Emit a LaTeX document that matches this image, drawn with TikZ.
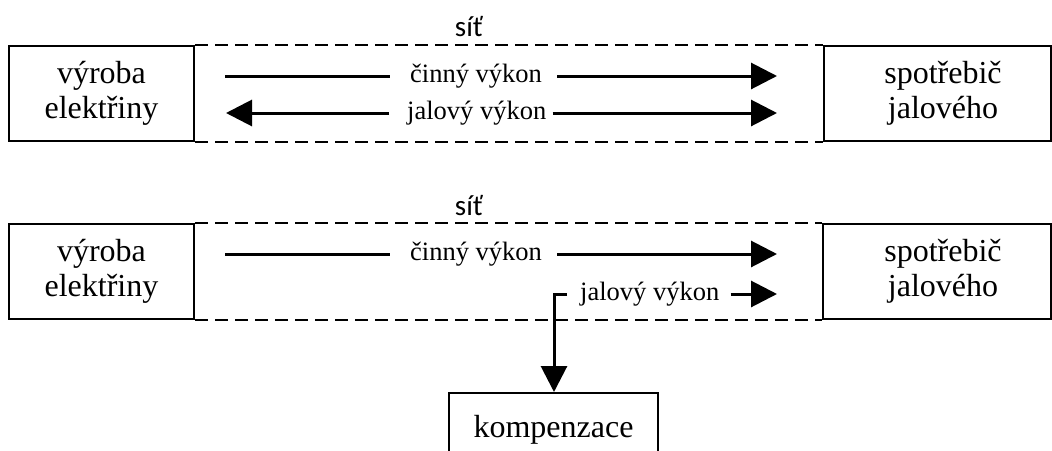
\documentclass[tikz,border=0pt]{standalone}
\usepackage{fontspec}
\setmainfont{Liberation Serif}
\newfontfamily\netfont{Carlito}
\usetikzlibrary{arrows.meta}
\tikzset{
  box/.style={draw, line width=2pt, rectangle, inner sep=0pt, align=center,
    font=\fontsize{32}{35}\selectfont},
  boxtext/.style={inner sep=0pt, align=center, font=\fontsize{32}{35}\selectfont},
  lbl/.style={inner sep=0pt, font=\fontsize{26.5}{28}\selectfont},
  netlbl/.style={inner sep=0pt, font=\netfont\fontsize{29}{30}\selectfont},
  netline/.style={line width=2pt, dash pattern=on 13pt off 7pt},
  flow/.style={line width=3pt},
  tip/.style={-{Triangle[length=26pt,width=26pt]}},
}
\begin{document}
\begin{tikzpicture}[x=1pt,y=-1pt]
\clip (0,0) rectangle (1052,450);
% ---------- top diagram ----------
\node[box, minimum width=185pt, minimum height=95pt] (gen1) at (101.5,93.5) {výroba\\elektřiny};
\node[box, minimum width=227pt, minimum height=95pt] (load1) at (937.5,93.5) {};
\node[boxtext] (load1t) at (943,93.5) {spotřebič\\jalového};
\draw[netline] (gen1.north east) -- (load1.north west);
\draw[netline] (gen1.south east) -- (load1.south west);
\node[netlbl] (net1) at (469,27) {síť};
% činný výkon
\node[lbl, anchor=west] (p1) at (410,76) {činný výkon};
\coordinate (p1s) at (225,76);
\coordinate (p1e) at (777,76);
\draw[flow] (p1s) -- ([xshift=-20pt]p1.west);
\draw[flow, tip] ([xshift=15pt]p1.east) -- (p1e);
% jalový výkon
\node[lbl, anchor=west] (q1) at (407,113) {jalový výkon};
\coordinate (q1s) at (226,113);
\coordinate (q1e) at (777,113);
\draw[flow, tip] ([xshift=-18pt]q1.west) -- (q1s);
\draw[flow, tip] ([xshift=6pt]q1.east) -- (q1e);
% ---------- bottom diagram ----------
\node[box, minimum width=185pt, minimum height=95pt] (gen2) at (101.5,271) {výroba\\elektřiny};
\node[box, minimum width=228pt, minimum height=95pt] (load2) at (937,271) {};
\node[boxtext] (load2t) at (943,271) {spotřebič\\jalového};
\draw[netline] (gen2.north east) -- (load2.north west);
\draw[netline] (gen2.south east) -- (load2.south west);
\node[netlbl] (net2) at (469,206) {síť};
% činný výkon
\node[lbl, anchor=west] (p2) at (410,254) {činný výkon};
\coordinate (p2s) at (225,254);
\coordinate (p2e) at (777,254);
\draw[flow] (p2s) -- ([xshift=-20pt]p2.west);
\draw[flow, tip] ([xshift=15pt]p2.east) -- (p2e);
% jalový výkon -> kompenzace
\node[box, minimum width=209pt, minimum height=74pt] (komp) at (553.5,430) {kompenzace};
\node[lbl, anchor=west] (q2) at (580,294) {jalový výkon};
\coordinate (q2e) at (777,294);
\coordinate (q2c) at (554,294);
\draw[flow, tip] ([xshift=11pt]q2.east) -- (q2e);
\draw[flow, tip] ([xshift=-13pt]q2.west) -- (q2c) -- (komp.north -| q2c);
\end{tikzpicture}
\end{document}
